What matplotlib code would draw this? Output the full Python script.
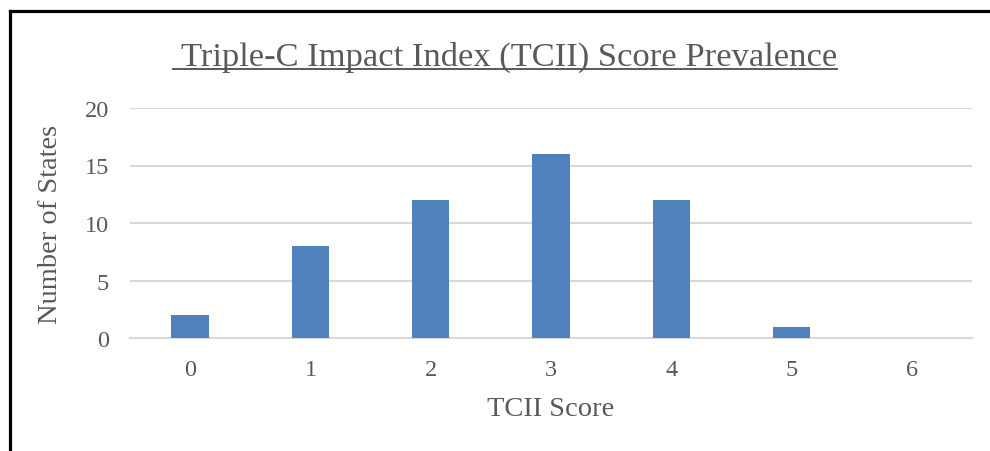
import matplotlib
matplotlib.use("Agg")
import matplotlib.pyplot as plt
from matplotlib.lines import Line2D

categories = ["0", "1", "2", "3", "4", "5", "6"]
counts = [2, 8, 12, 16, 12, 1, 0]
yticks = [0, 5, 10, 15, 20]

title = " Triple-C Impact Index (TCII) Score Prevalence"
xlabel = "TCII Score"
ylabel = "Number of States"

W, H = 990, 452
fig = plt.figure(figsize=(W / 100, H / 100), dpi=100)
plt.rcParams["font.family"] = ["Liberation Serif", "DejaVu Serif"]
txt = "#595959"

ax = fig.add_axes([130 / W, 1 - 339 / H, 842 / W, 230 / H])
x = list(range(len(categories)))
ax.bar(x, counts, width=0.31, color="#4F81BD", zorder=3)
ax.set_xlim(-0.5, len(categories) - 0.5)
ax.set_ylim(0, 20)
ax.set_yticks(yticks)
ax.set_xticks(x)
ax.set_xticklabels(categories)
ax.yaxis.grid(True, color="#D9D9D9", linewidth=1.5, zorder=0)
for s in ["top", "right", "left"]:
    ax.spines[s].set_visible(False)
ax.spines["bottom"].set_color("#D9D9D9")
ax.spines["bottom"].set_linewidth(1.5)
ax.tick_params(axis="both", length=0, labelsize=17.5, labelcolor=txt)
ax.tick_params(axis="y", pad=15)
ax.tick_params(axis="x", pad=15)
ax.set_xlabel(xlabel, fontsize=20.5, color=txt, labelpad=12)
ax.set_ylabel(ylabel, fontsize=20.5, color=txt, labelpad=16)

t = fig.text(505 / W, 1 - 57.5 / H, title, fontsize=24.8, color=txt,
             ha="center", va="center")

# border (top and left only)
fig.add_artist(Line2D([9.5 / W, 9.5 / W], [0, 1 - 11.5 / H], color="black",
                      linewidth=2.3, transform=fig.transFigure))
fig.add_artist(Line2D([9.5 / W, 1], [1 - 11.5 / H, 1 - 11.5 / H], color="black",
                      linewidth=2.3, transform=fig.transFigure))

fig.canvas.draw()
bb = t.get_window_extent(fig.canvas.get_renderer())
inv = fig.transFigure.inverted()
(x0, y0), (x1, y1) = inv.transform([[bb.x0, bb.y0], [bb.x1, bb.y1]])
uy = 1 - 69.5 / H
fig.add_artist(Line2D([x0, x1], [uy, uy], color=txt, linewidth=1.4,
                      transform=fig.transFigure))

fig.savefig("out.png", dpi=100)
